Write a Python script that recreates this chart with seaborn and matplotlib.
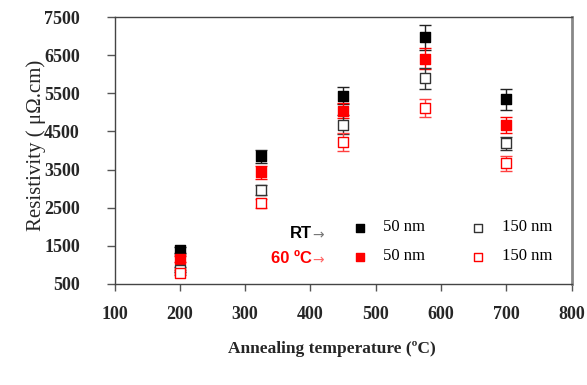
import matplotlib
matplotlib.use("Agg")
import matplotlib.pyplot as plt
import seaborn as sns
import numpy as np

temps = [200, 325, 450, 575, 700]
rt_50 = [1390, 3850, 5440, 6970, 5340]
rt_50_err = [80, 175, 220, 330, 275]
rt_150 = [880, 2965, 4670, 5890, 4190]
rt_150_err = [70, 130, 250, 285, 165]
c60_50 = [1150, 3430, 5040, 6410, 4670]
c60_50_err = [80, 175, 200, 280, 210]
c60_150 = [800, 2615, 4220, 5120, 3665]
c60_150_err = [60, 120, 230, 235, 190]

x_ticks = [100, 200, 300, 400, 500, 600, 700, 800]
y_ticks = [500, 1500, 2500, 3500, 4500, 5500, 6500, 7500]

sns.set_style("white")
plt.rcParams['font.family'] = ['Liberation Serif', 'DejaVu Serif']

fig = plt.figure(figsize=(5.87, 3.85), dpi=100)
ax = fig.add_axes([114.5/587, 1-284/385, (571.7-114.5)/587, (284-17)/385])

series = [
    (rt_50, rt_50_err, "black", "black", "#222222"),
    (c60_50, c60_50_err, "red", "red", "red"),
    (rt_150, rt_150_err, "white", "#333333", "#333333"),
    (c60_150, c60_150_err, "white", "red", "#ff4040"),
]
for vals, errs, fc, ec, lc in series:
    ax.errorbar(temps, vals, yerr=errs, fmt='none', ecolor=lc, elinewidth=1.0,
                capsize=4.5, capthick=1.0, zorder=2)
for vals, errs, fc, ec, lc in series:
    sns.scatterplot(x=temps, y=vals, ax=ax, marker='s', s=42, color=fc,
                    edgecolor=ec, linewidth=1.0, zorder=3, legend=False)

ax.set_xlim(100, 800)
ax.set_ylim(500, 7500)
ax.set_xticks(x_ticks)
ax.set_yticks(y_ticks)
ax.set_xticklabels([str(t) for t in x_ticks], fontsize=13, fontweight='bold')
ax.set_yticklabels([str(t) for t in y_ticks], fontsize=13, fontweight='bold')
ax.tick_params(axis='x', direction='out', length=5, width=1, color='#555555', pad=11)
ax.tick_params(axis='y', direction='out', length=6, width=1, color='#555555', pad=19)
ax.xaxis.set_ticks_position('bottom')
ax.yaxis.set_ticks_position('left')

for s in ['left', 'bottom', 'top']:
    ax.spines[s].set_color('#444444')
    ax.spines[s].set_linewidth(1.0)
ax.spines['right'].set_color('#888888')
ax.spines['right'].set_linewidth(2.0)

ax.set_xlabel("Annealing temperature (ºC)", fontsize=12.5, fontweight='bold')
ax.set_ylabel("Resistivity ( μΩ.cm)", fontsize=15, fontweight='normal')
ax.xaxis.set_label_coords(0.476, -0.213)
ax.yaxis.set_label_coords(-0.150, 0.52)

# Custom legend
leg_rows = [
    (0.210, 0.191, "RT", "black", ("black", "black"), ("white", "#333333")),
    (0.100, 0.097, "60 ºC", "red", ("red", "red"), ("white", "red")),
]
for ya, yt, lab, col, m1, m2 in leg_rows:
    ax.text(0.432, yt, lab, transform=ax.transAxes, ha='right', va='center',
            fontsize=12, fontweight='bold', color=col,
            family=['Liberation Sans', 'DejaVu Sans'])
    ax.text(0.432, yt - 0.01, "→", transform=ax.transAxes, ha='left', va='center',
            fontsize=10, color='#777777' if col == 'black' else '#ff6666',
            family=['DejaVu Sans'])
    ax.scatter([0.537], [ya], transform=ax.transAxes, marker='s', s=34,
               color=m1[0], edgecolor=m1[1], linewidth=1.0, zorder=4)
    ax.scatter([0.795], [ya], transform=ax.transAxes, marker='s', s=34,
               color=m2[0], edgecolor=m2[1], linewidth=1.0, zorder=4)
    ax.text(0.587, ya + 0.005, "50 nm", transform=ax.transAxes, ha='left', va='center',
            fontsize=12, color='black')
    ax.text(0.848, ya + 0.005, "150 nm", transform=ax.transAxes, ha='left', va='center',
            fontsize=12, color='black')

fig.savefig("out.png", dpi=100)
